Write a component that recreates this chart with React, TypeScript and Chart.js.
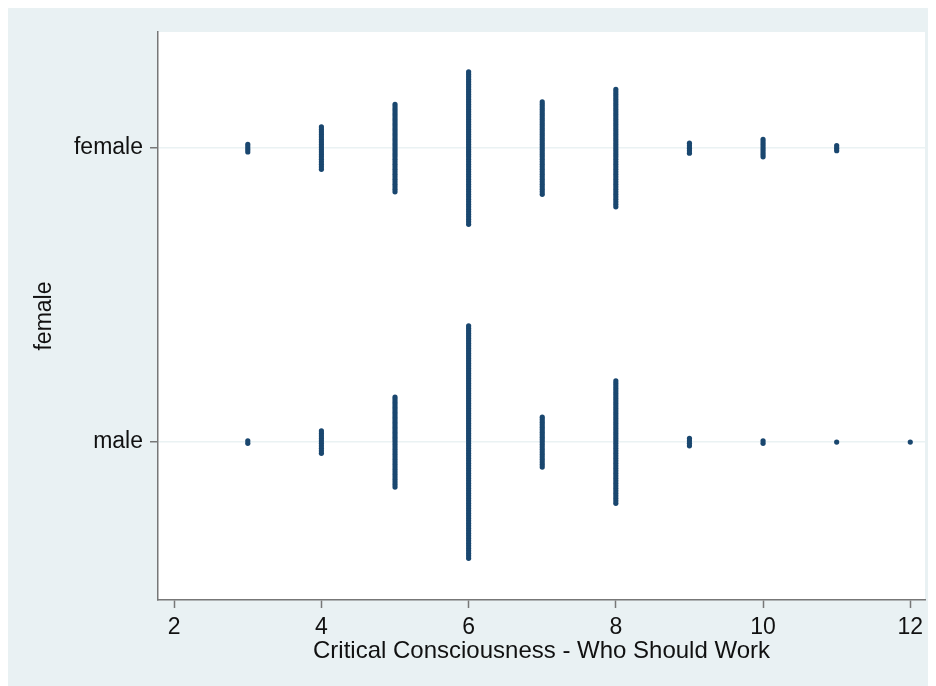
import React, { useEffect, useRef } from "react";
import { Chart, registerables } from "chart.js";

Chart.register(...registerables);

const scoreValues = [3, 4, 5, 6, 7, 8, 9, 10, 11, 12];
const femaleCounts = [4, 18, 36, 62, 38, 48, 5, 8, 3, 0];
const maleCounts = [2, 10, 37, 94, 21, 50, 4, 2, 1, 1];
const groupLabels = ["male", "female"]; // y = 0, y = 1
const xTickValues = [2, 4, 6, 8, 10, 12];
const xTitle = "Critical Consciousness - Who Should Work";
const yTitle = "female";

const STACK_STEP = 0.0085; // vertical spacing between stacked dots (data units)

function stackPoints(counts: number[], base: number) {
  const pts: { x: number; y: number }[] = [];
  counts.forEach((n, i) => {
    for (let k = 0; k < n; k++) {
      pts.push({ x: scoreValues[i], y: base + (k - (n - 1) / 2) * STACK_STEP });
    }
  });
  return pts;
}

const FONT = "'Liberation Sans', Arial, sans-serif";
const NAVY = "#1a476f";
const BG = "#e9f1f3";

const bgPlugin = {
  id: "bgPlugin",
  beforeDraw(chart: any) {
    const { ctx, chartArea, width, height } = chart;
    ctx.save();
    ctx.fillStyle = BG;
    ctx.fillRect(0, 0, width, height);
    ctx.fillStyle = "#ffffff";
    ctx.fillRect(chartArea.left, chartArea.top, chartArea.right - chartArea.left, chartArea.bottom - chartArea.top);
    ctx.restore();
  },
};

export default function App() {
  const ref = useRef<HTMLCanvasElement | null>(null);

  useEffect(() => {
    if (!ref.current) return;
    const chart = new Chart(ref.current, {
      type: "scatter",
      data: {
        datasets: [
          {
            data: stackPoints(femaleCounts, 1),
            backgroundColor: NAVY,
            borderWidth: 0,
            pointRadius: 2.6,
          },
          {
            data: stackPoints(maleCounts, 0),
            backgroundColor: NAVY,
            borderWidth: 0,
            pointRadius: 2.6,
          },
        ],
      },
      options: {
        responsive: false,
        animation: false,
        layout: { padding: { left: 0, right: 11, top: 24, bottom: 0 } },
        plugins: {
          legend: { display: false },
          tooltip: { enabled: false },
        },
        scales: {
          x: {
            type: "linear",
            min: 1.78,
            max: 12.2,
            afterBuildTicks: (scale: any) => {
              scale.ticks = xTickValues.map((v) => ({ value: v }));
            },
            afterFit: (scale: any) => {
              scale.height = 86;
            },
            grid: {
              drawOnChartArea: false,
              drawTicks: true,
              tickLength: 8,
              tickColor: "#777777",
              tickWidth: 1.5,
            },
            border: { display: true, color: "#777777", width: 1.5 },
            ticks: {
              padding: 6,
              color: "#111111",
              font: { family: FONT, size: 23 },
              maxRotation: 0,
              autoSkip: false,
            },
            title: {
              display: true,
              text: xTitle,
              color: "#111111",
              font: { family: FONT, size: 24 },
              padding: { top: 0, bottom: 20 },
            },
          },
          y: {
            type: "linear",
            min: -0.537,
            max: 1.395,
            afterBuildTicks: (scale: any) => {
              scale.ticks = [{ value: 0 }, { value: 1 }];
            },
            afterFit: (scale: any) => {
              scale.width = 150;
            },
            grid: {
              drawOnChartArea: true,
              color: "#eaf2f3",
              lineWidth: 1.5,
              drawTicks: true,
              tickLength: 8,
              tickColor: "#777777",
              tickWidth: 1.5,
            },
            border: { display: true, color: "#777777", width: 1.5 },
            ticks: {
              padding: 7,
              color: "#111111",
              font: { family: FONT, size: 23 },
              autoSkip: false,
              callback: (v: any) => groupLabels[Number(v)] ?? "",
            },
            title: {
              display: true,
              text: yTitle,
              color: "#111111",
              font: { family: FONT, size: 23 },
              padding: { top: 23, bottom: 0 },
            },
          },
        },
      },
      plugins: [bgPlugin],
    });
    return () => chart.destroy();
  }, []);

  return <canvas ref={ref} width={928} height={678} style={{ display: "block" }} />;
}
